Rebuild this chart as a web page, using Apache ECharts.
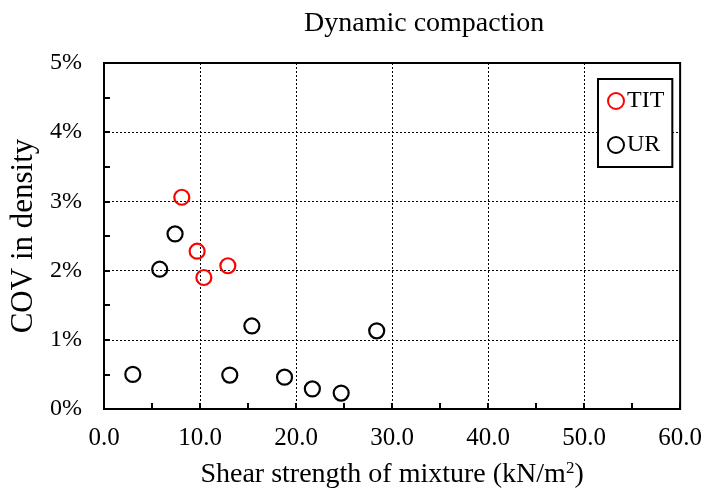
<!DOCTYPE html>
<html>
<head>
<meta charset="utf-8">
<script src="https://cdn.jsdelivr.net/npm/echarts@6/dist/echarts.min.js"></script>
<style>html,body{margin:0;padding:0;background:#fff}#c{width:705px;height:496px}</style>
</head>
<body>
<div id="c"></div>
<script>
const titleText = 'Dynamic compaction';
const xName = 'Shear strength of mixture (kN/m{sup|2})';
const yName = 'COV in density';
const seriesNames = ['TIT', 'UR'];
const titX = [8.1, 9.7, 10.4, 12.9];
const titY = [3.06, 2.28, 1.90, 2.07];
const urX = [3.0, 5.8, 7.4, 13.1, 15.4, 18.8, 21.7, 24.7, 28.4];
const urY = [0.50, 2.02, 2.53, 0.49, 1.20, 0.46, 0.29, 0.23, 1.13];

const FONT = '"Liberation Serif", "Times New Roman", serif';
const chart = echarts.init(document.getElementById('c'), null, {renderer: 'canvas'});
const zip = (a, b) => a.map((v, i) => [v, b[i]]);
chart.setOption({
  animation: false,
  backgroundColor: '#fff',
  title: {
    text: titleText, left: 299, top: 5,
    textStyle: {fontFamily: FONT, fontWeight: 'normal', fontSize: 28, color: '#000'}
  },
  grid: {left: 104, right: 21, top: 63, bottom: 87, show: true, borderColor: '#000', borderWidth: 2},
  legend: {
    orient: 'vertical', left: 598, top: 79,
    padding: [10, 8, 10, 9], itemGap: 20, itemWidth: 16, itemHeight: 16,
    borderColor: '#000', borderWidth: 2, backgroundColor: '#fff',
    textStyle: {fontFamily: FONT, fontSize: 24, color: '#000', padding: [0, 0, 0, -2]},
    data: seriesNames
  },
  xAxis: {
    type: 'value', min: 0, max: 60, interval: 10,
    name: xName, nameLocation: 'middle', nameGap: 51,
    nameTextStyle: {fontFamily: FONT, fontSize: 28, color: '#000',
      rich: {sup: {fontFamily: FONT, fontSize: 17, color: '#000', verticalAlign: 'top', padding: [0, 0, 13, 0]}}},
    axisLine: {lineStyle: {color: '#000', width: 2}},
    axisTick: {inside: true, length: 6, lineStyle: {color: '#000', width: 2}},
    minorTick: {show: true, splitNumber: 2, length: 6, lineStyle: {color: '#000', width: 2}},
    axisLabel: {fontFamily: FONT, fontSize: 25, color: '#000', margin: 17, formatter: v => v.toFixed(1)},
    splitLine: {lineStyle: {color: '#000', type: [2, 2], width: 1}}
  },
  yAxis: {
    type: 'value', min: 0, max: 5, interval: 1,
    name: yName, nameLocation: 'middle', nameGap: 58, nameRotate: 90,
    nameTextStyle: {fontFamily: FONT, fontSize: 31, color: '#000'},
    axisLine: {lineStyle: {color: '#000', width: 2}},
    axisTick: {inside: true, length: 6, lineStyle: {color: '#000', width: 2}},
    minorTick: {show: true, splitNumber: 2, length: 6, lineStyle: {color: '#000', width: 2}},
    axisLabel: {fontFamily: FONT, fontSize: 24, color: '#000', margin: 22, formatter: '{value}%'},
    splitLine: {lineStyle: {color: '#000', type: [2, 2], width: 1}}
  },
  series: [
    {name: seriesNames[0], type: 'scatter', symbol: 'circle', symbolSize: 15, data: zip(titX, titY), z: 3,
     itemStyle: {color: 'rgba(255,255,255,0)', borderColor: '#ff0000', borderWidth: 2.2, opacity: 1}},
    {name: seriesNames[1], type: 'scatter', symbol: 'circle', symbolSize: 15, data: zip(urX, urY), z: 2,
     itemStyle: {color: 'rgba(255,255,255,0)', borderColor: '#000', borderWidth: 2.2, opacity: 1}}
  ]
});
</script>
</body>
</html>
